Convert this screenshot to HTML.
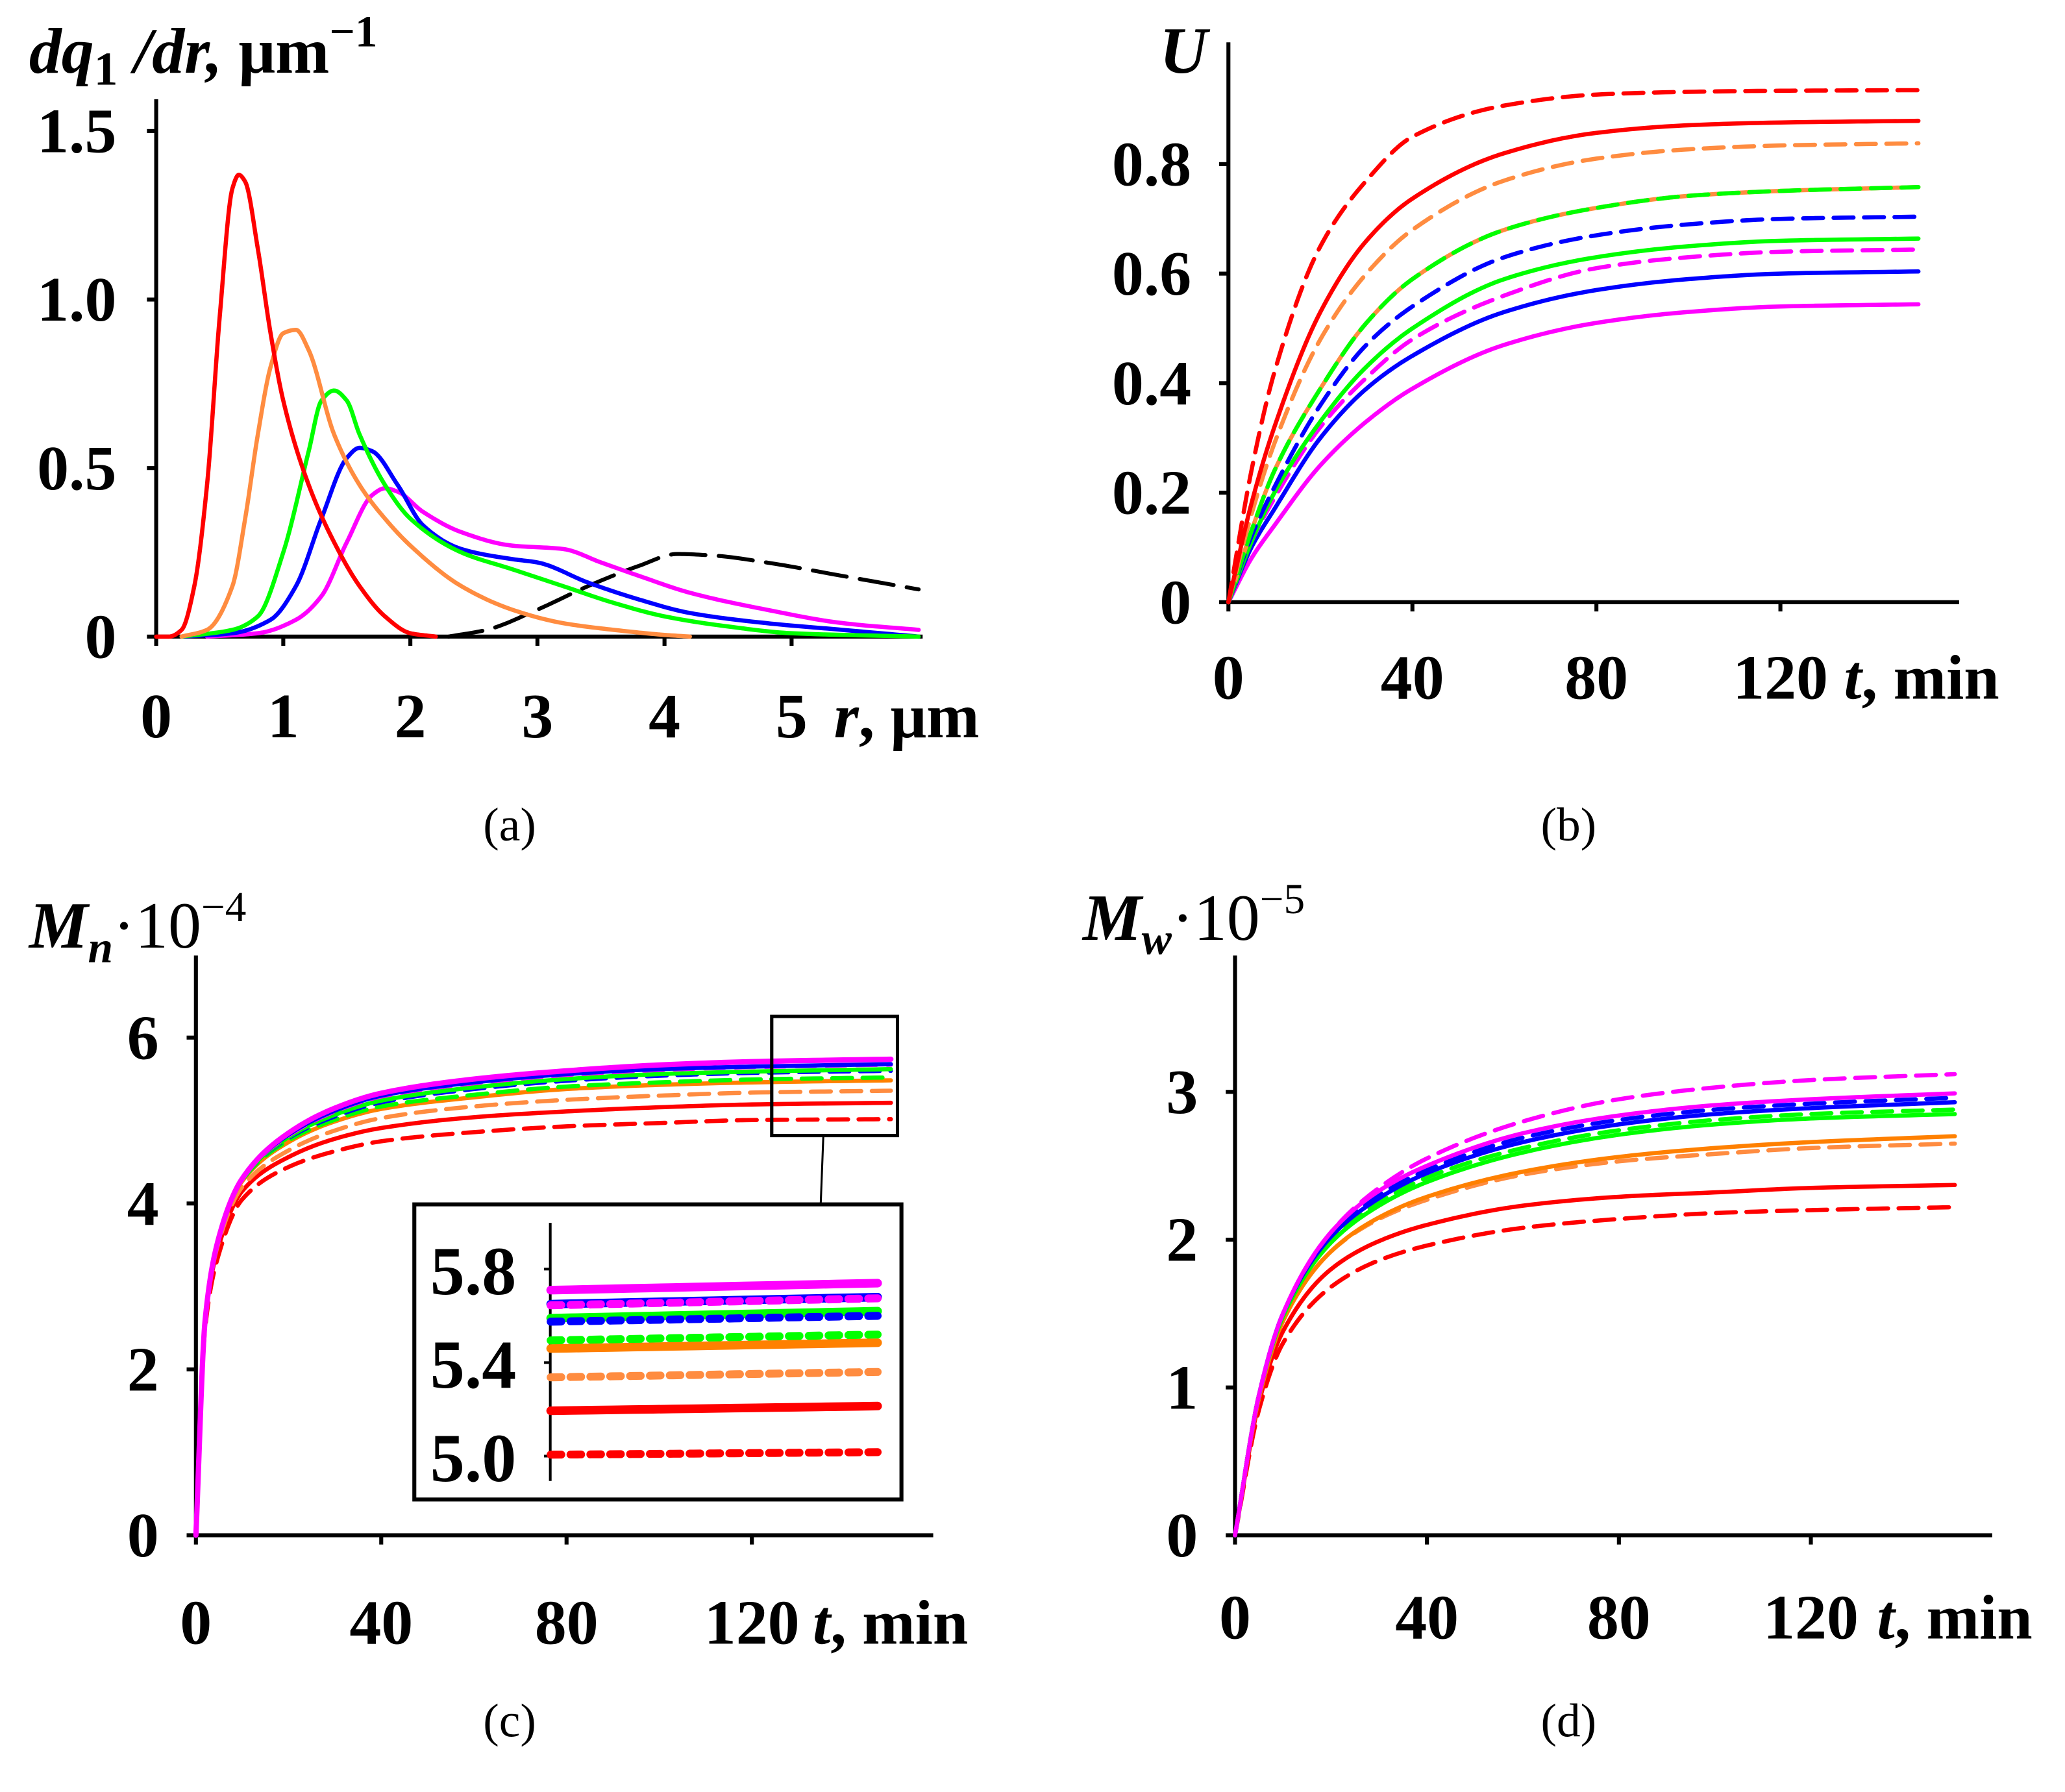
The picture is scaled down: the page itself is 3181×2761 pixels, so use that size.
<!DOCTYPE html>
<html><head><meta charset="utf-8"><style>
html,body{margin:0;padding:0;background:#fff;}
svg{display:block;}
text{font-family:"Liberation Serif",serif;font-weight:bold;fill:#000;}
.cap{font-weight:normal;font-size:36px;}
</style></head><body>
<svg id="fig" xmlns="http://www.w3.org/2000/svg" width="3181" height="2761" viewBox="0 0 1560 1354" preserveAspectRatio="none">
<rect x="0" y="0" width="1560" height="1354" fill="#fff"/>
<text x="22" y="55" font-size="49" font-style="italic">dq<tspan font-style="normal" font-size="36" dy="9">1</tspan><tspan dy="-9"> /dr, </tspan><tspan font-style="normal">μm</tspan><tspan font-style="normal" font-size="34" dy="-20">−1</tspan></text>
<text x="876" y="55" font-size="50" font-style="italic">U</text>
<text x="22" y="716" font-size="50"><tspan font-style="italic">M</tspan><tspan font-style="italic" font-size="34" dy="11">n</tspan><tspan dy="-11" font-weight="normal">·10</tspan><tspan font-weight="normal" font-size="32" dy="-20">−4</tspan></text>
<text x="818" y="710" font-size="50"><tspan font-style="italic">M</tspan><tspan font-style="italic" font-size="34" dy="11">w</tspan><tspan dy="-11" font-weight="normal">·10</tspan><tspan font-weight="normal" font-size="32" dy="-20">−5</tspan></text>
<text x="630" y="557" font-size="48"><tspan font-style="italic">r</tspan>, μm</text>
<text x="1393" y="528" font-size="48"><tspan font-style="italic">t</tspan>, min</text>
<text x="614" y="1242" font-size="48"><tspan font-style="italic">t</tspan>, min</text>
<text x="1418" y="1238" font-size="48"><tspan font-style="italic">t</tspan>, min</text>
<text class="cap" x="385" y="635" text-anchor="middle">(a)</text>
<text class="cap" x="1185" y="635" text-anchor="middle">(b)</text>
<text class="cap" x="385" y="1312" text-anchor="middle">(c)</text>
<text class="cap" x="1185" y="1312" text-anchor="middle">(d)</text>
<g id="plots"></g>
</svg>
<script>
// ---------- panel (a) data ----------
const aRed_r=[0,0.1,0.2,0.3,0.4,0.5,0.6,0.65,0.7,0.8,0.9,1.0,1.2,1.4,1.6,1.8,2.0,2.2];
const aRed_v=[0,0,0.02,0.15,0.45,0.95,1.33,1.37,1.35,1.15,0.9,0.7,0.45,0.28,0.15,0.06,0.01,0];
const aOrange_r=[0.2,0.4,0.6,0.7,0.8,0.9,1.0,1.1,1.2,1.4,1.6,1.8,2.0,2.4,2.8,3.2,3.6,4.0,4.2];
const aOrange_v=[0,0.02,0.15,0.35,0.6,0.8,0.9,0.91,0.85,0.6,0.45,0.35,0.27,0.15,0.08,0.04,0.02,0.005,0];
const aGreen_r=[0.2,0.6,0.8,1.0,1.2,1.3,1.4,1.5,1.6,1.8,2.0,2.4,2.8,3.2,3.6,4.0,4.5,5.0,6.0];
const aGreen_v=[0,0.02,0.06,0.25,0.55,0.7,0.73,0.7,0.6,0.45,0.35,0.25,0.2,0.15,0.1,0.06,0.03,0.01,0];
const aBlue_r=[0.2,0.6,0.9,1.1,1.3,1.5,1.6,1.7,1.9,2.1,2.4,2.8,3.0,3.4,3.8,4.2,4.8,5.4,6.0];
const aBlue_v=[0,0.01,0.05,0.15,0.35,0.53,0.56,0.55,0.45,0.33,0.26,0.23,0.22,0.16,0.11,0.07,0.04,0.02,0];
const aMag_r=[0.4,0.8,1.1,1.3,1.5,1.7,1.8,1.9,2.1,2.4,2.8,3.2,3.5,3.8,4.2,4.8,5.4,6.0];
const aMag_v=[0,0.01,0.05,0.12,0.28,0.42,0.44,0.43,0.37,0.31,0.27,0.26,0.22,0.18,0.13,0.08,0.04,0.02];
const aBlack_r=[2.3,2.6,3.0,3.4,3.8,4.1,4.4,4.8,5.4,6.0];
const aBlack_v=[0,0.02,0.08,0.15,0.21,0.245,0.24,0.22,0.18,0.14];
const aXTicks=["0","1","2","3","4","5"];
const aYTicks=["0","0.5","1.0","1.5"];
// ---------- panel (b) data ----------
const bT=[0,5,10,20,30,40,60,80,100,120,150];
const bRedD=[0,0.24,0.42,0.65,0.77,0.85,0.907,0.927,0.932,0.934,0.935];
const bRed=[0,0.18,0.32,0.53,0.66,0.737,0.82,0.857,0.871,0.876,0.879];
const bOrangeD=[0,0.16,0.29,0.48,0.6,0.68,0.77,0.81,0.827,0.834,0.838];
const bGreenD=[0,0.13,0.24,0.39,0.51,0.59,0.68,0.72,0.742,0.751,0.758];
const bOrange=[0,0.13,0.24,0.39,0.51,0.59,0.68,0.72,0.742,0.751,0.758];
const bBlueD=[0,0.12,0.21,0.36,0.47,0.54,0.63,0.67,0.69,0.70,0.704];
const bGreen=[0,0.11,0.2,0.33,0.43,0.5,0.59,0.63,0.65,0.66,0.664];
const bMagD=[0,0.11,0.19,0.32,0.41,0.48,0.56,0.61,0.63,0.64,0.644];
const bBlue=[0,0.1,0.17,0.3,0.39,0.45,0.53,0.57,0.59,0.6,0.604];
const bMag=[0,0.08,0.14,0.25,0.33,0.39,0.47,0.51,0.53,0.54,0.544];
const bXTicks=["0","40","80","120"];
const bYTicks=["0","0.2","0.4","0.6","0.8"];
// ---------- panel (c) data ----------
const cT=[0,2,5,10,20,30,40,60,80,100,120,150];
const cMag=[0,2.6,3.6,4.3,4.85,5.15,5.33,5.5,5.6,5.67,5.71,5.74];
const cBlue=[0,2.6,3.6,4.3,4.83,5.12,5.3,5.46,5.56,5.62,5.65,5.68];
const cMagD=[0,2.6,3.6,4.3,4.82,5.11,5.29,5.45,5.55,5.61,5.645,5.675];
const cGreen=[0,2.6,3.6,4.29,4.8,5.07,5.24,5.4,5.5,5.56,5.59,5.62];
const cBlueD=[0,2.6,3.6,4.29,4.79,5.05,5.22,5.38,5.48,5.54,5.575,5.6];
const cGreenD=[0,2.6,3.6,4.28,4.76,5.01,5.17,5.31,5.41,5.46,5.495,5.52];
const cOrange=[0,2.6,3.6,4.27,4.74,4.99,5.14,5.28,5.38,5.43,5.46,5.485];
const cOrangeD=[0,2.6,3.55,4.2,4.64,4.88,5.03,5.17,5.25,5.3,5.337,5.36];
const cRed=[0,2.6,3.5,4.15,4.56,4.78,4.91,5.04,5.11,5.16,5.194,5.214];
const cRedD=[0,2.5,3.4,4.05,4.44,4.63,4.75,4.86,4.93,4.97,5.006,5.017];
const cXTicks=["0","40","80","120"];
const cYTicks=["0","2","4","6"];
const inT=[120,150];
const inYTicks=["5.0","5.4","5.8"];
// ---------- panel (d) data ----------
const dT=[0,5,10,20,30,40,60,80,100,120,150];
const dMagD=[0,0.95,1.5,2.05,2.35,2.55,2.8,2.95,3.03,3.08,3.12];
const dMag=[0,0.95,1.5,2.05,2.33,2.5,2.72,2.84,2.91,2.95,2.99];
const dBlueD=[0,0.95,1.5,2.03,2.3,2.47,2.69,2.81,2.88,2.92,2.96];
const dBlue=[0,0.95,1.5,2.02,2.28,2.45,2.66,2.78,2.85,2.89,2.93];
const dGreenD=[0,0.95,1.48,2.0,2.25,2.42,2.62,2.74,2.81,2.85,2.88];
const dGreen=[0,0.95,1.48,1.98,2.23,2.39,2.59,2.71,2.78,2.82,2.85];
const dOrange=[0,0.93,1.45,1.92,2.15,2.29,2.46,2.56,2.62,2.66,2.7];
const dOrangeD=[0,0.93,1.45,1.92,2.14,2.27,2.44,2.53,2.58,2.62,2.65];
const dRed=[0,0.9,1.38,1.8,1.99,2.1,2.23,2.29,2.32,2.35,2.37];
const dRedD=[0,0.85,1.3,1.68,1.86,1.96,2.08,2.14,2.18,2.2,2.22];
const dXTicks=["0","40","80","120"];
const dYTicks=["0","1","2","3"];

const NS="http://www.w3.org/2000/svg";
const root=document.getElementById('plots');
function mk(tag,attrs,parent){const e=document.createElementNS(NS,tag);for(const k in attrs)e.setAttribute(k,attrs[k]);(parent||root).appendChild(e);return e;}
function lin(d0,d1,p0,p1){return v=>p0+(v-d0)*(p1-p0)/(d1-d0);}
// monotone cubic (Fritsch-Carlson) interpolation in data space, sampled densely
function monoPath(xs,ys,sx,sy){
  const n=xs.length,h=[],dl=[],m=new Array(n);
  for(let i=0;i<n-1;i++){h.push(xs[i+1]-xs[i]);dl.push((ys[i+1]-ys[i])/h[i]);}
  m[0]=dl[0];m[n-1]=dl[n-2];
  for(let i=1;i<n-1;i++){
    if(dl[i-1]*dl[i]<=0)m[i]=0;
    else{const w1=2*h[i]+h[i-1],w2=h[i]+2*h[i-1];m[i]=(w1+w2)/(w1/dl[i-1]+w2/dl[i]);}
  }
  let d="M"+sx(xs[0]).toFixed(2)+","+sy(ys[0]).toFixed(2);
  for(let i=0;i<n-1;i++){
    const N=16;
    for(let k=1;k<=N;k++){
      const t=k/N,t2=t*t,t3=t2*t;
      const v=(2*t3-3*t2+1)*ys[i]+(t3-2*t2+t)*h[i]*m[i]+(-2*t3+3*t2)*ys[i+1]+(t3-t2)*h[i]*m[i+1];
      const x=xs[i]+t*h[i];
      d+=" L"+sx(x).toFixed(2)+","+sy(v).toFixed(2);
    }
  }
  return d;
}
function series(name,xs,ys,sx,sy,color,dash,w){
  const p=mk('path',{d:monoPath(xs,ys,sx,sy),fill:'none',stroke:color,'stroke-width':w||3.2,'stroke-linejoin':'round','stroke-linecap':'round'});
  if(dash)p.setAttribute('stroke-dasharray',dash);
  
  
  return p;
}
function axes(prefix,x0,x1,y0,y1,xTicks,sx,yTicks,sy,xLabY,yLabX){
  const xa=mk('line',{x1:x0,y1:y0,x2:x1,y2:y0,stroke:'#000','stroke-width':3});
  
  
  const ya=mk('line',{x1:x0,y1:y0,x2:x0,y2:y1,stroke:'#000','stroke-width':3});
  
  
  xTicks.forEach(t=>{
    const x=sx(parseFloat(t));
    mk('line',{x1:x,y1:y0,x2:x,y2:y0+7,stroke:'#000','stroke-width':3});
    const tx=mk('text',{x:x,y:xLabY,'font-size':48,'text-anchor':'middle'});
    tx.textContent=t;
    
    
  });
  yTicks.forEach(t=>{
    const y=sy(parseFloat(t));
    mk('line',{x1:x0-7,y1:y,x2:x0,y2:y,stroke:'#000','stroke-width':3});
    const ty=mk('text',{x:yLabX,y:y+16,'font-size':48,'text-anchor':'end'});
    ty.textContent=t;
    
    
  });
}
const RED="#ff0000",OR="#ff8000",ORD="#ff8c40",GR="#00ff00",BL="#0000ff",MG="#ff00ff",DS="15 8";

// panel a
{
  const sx=lin(0,1,118,214), sy=lin(0,1.5,481,99);
  axes('panel-a',118,697,481,75,aXTicks,sx,aYTicks,sy,557,88);
  series('a-black-dashed',aBlack_r,aBlack_v,sx,sy,'#000',"26 10",3);
  series('a-magenta',aMag_r,aMag_v,sx,sy,MG);
  series('a-blue',aBlue_r,aBlue_v,sx,sy,BL);
  series('a-green',aGreen_r,aGreen_v,sx,sy,GR);
  series('a-orange',aOrange_r,aOrange_v,sx,sy,ORD);
  series('a-red',aRed_r,aRed_v,sx,sy,RED);
}
// panel b
{
  const sx=lin(0,40,928,1067), sy=lin(0,0.8,455,124);
  axes('panel-b',928,1480,455,32,bXTicks,sx,bYTicks,sy,528,900);
  series('b-magenta',bT,bMag,sx,sy,MG);
  series('b-blue',bT,bBlue,sx,sy,BL);
  series('b-magenta-dashed',bT,bMagD,sx,sy,MG,DS);
  series('b-green',bT,bGreen,sx,sy,GR);
  series('b-blue-dashed',bT,bBlueD,sx,sy,BL,DS);
  series('b-orange',bT,bOrange,sx,sy,ORD);
  series('b-green-dashed',bT,bGreenD,sx,sy,GR,DS);
  series('b-orange-dashed',bT,bOrangeD,sx,sy,ORD,DS);
  series('b-red',bT,bRed,sx,sy,RED);
  series('b-red-dashed',bT,bRedD,sx,sy,RED,DS);
}
// panel c
{
  const sx=lin(0,40,148,288), sy=lin(0,6,1160,784);
  axes('panel-c',148,705,1160,722,cXTicks,sx,cYTicks,sy,1242,120);
  const S=[['c-red-dashed',cRedD,RED,DS],['c-red',cRed,RED],['c-orange-dashed',cOrangeD,ORD,DS],['c-orange',cOrange,OR],['c-green-dashed',cGreenD,GR,DS],['c-blue-dashed',cBlueD,BL,DS],['c-green',cGreen,GR],['c-magenta-dashed',cMagD,MG,DS],['c-blue',cBlue,BL],['c-magenta',cMag,MG]];
  S.forEach(s=>series(s[0],cT,s[1],sx,sy,s[2],s[3],s[0].indexOf('magenta')>0&&!s[3]?4:3.2));
  const zr=mk('rect',{x:583,y:768,width:95,height:90,fill:'none',stroke:'#000','stroke-width':2.5});
  
  
  mk('line',{x1:622,y1:858,x2:620,y2:910,stroke:'#000','stroke-width':1.5});
  const ib=mk('rect',{x:313,y:910,width:368,height:223,fill:'#fff',stroke:'#000','stroke-width':3});
  
  
  const ix=lin(120,150,416,663), iy=lin(5.0,5.8,1100.2,958.9);
  const ia=mk('line',{x1:415.7,y1:924,x2:415.7,y2:1119,stroke:'#000','stroke-width':2});
  
  
  inYTicks.forEach(t=>{
    const y=iy(parseFloat(t));
    mk('line',{x1:411,y1:y,x2:416,y2:y,stroke:'#000','stroke-width':2});
    const tx=mk('text',{x:390,y:y+19,'font-size':52,'text-anchor':'end'});
    tx.textContent=t;
    
    
  });
  const inOrder=[['inset-red-dashed',cRedD,RED,"8 7"],['inset-red',cRed,RED],['inset-orange-dashed',cOrangeD,ORD,"8 7"],['inset-orange',cOrange,OR],['inset-green-dashed',cGreenD,GR,"8 7"],['inset-green',cGreen,GR],['inset-blue-dashed',cBlueD,BL,"8 7"],['inset-blue',cBlue,BL],['inset-magenta-dashed',cMagD,MG,"8 7"],['inset-magenta',cMag,MG]];
  inOrder.forEach(s=>{
    const vals=[s[1][s[1].length-2],s[1][s[1].length-1]];
    series(s[0],inT,vals,ix,iy,s[2],s[3],s[3]?6:6.5);
  });
}
// panel d
{
  const sx=lin(0,40,933,1078), sy=lin(0,3,1160,825);
  axes('panel-d',933,1505,1160,722,dXTicks,sx,dYTicks,sy,1238,905);
  const S=[['d-red-dashed',dRedD,RED,DS],['d-red',dRed,RED],['d-orange-dashed',dOrangeD,ORD,DS],['d-orange',dOrange,OR],['d-green',dGreen,GR],['d-green-dashed',dGreenD,GR,DS],['d-blue',dBlue,BL],['d-blue-dashed',dBlueD,BL,DS],['d-magenta',dMag,MG],['d-magenta-dashed',dMagD,MG,DS]];
  S.forEach(s=>series(s[0],dT,s[1],sx,sy,s[2],s[3]));
}
</script>
</body></html>
